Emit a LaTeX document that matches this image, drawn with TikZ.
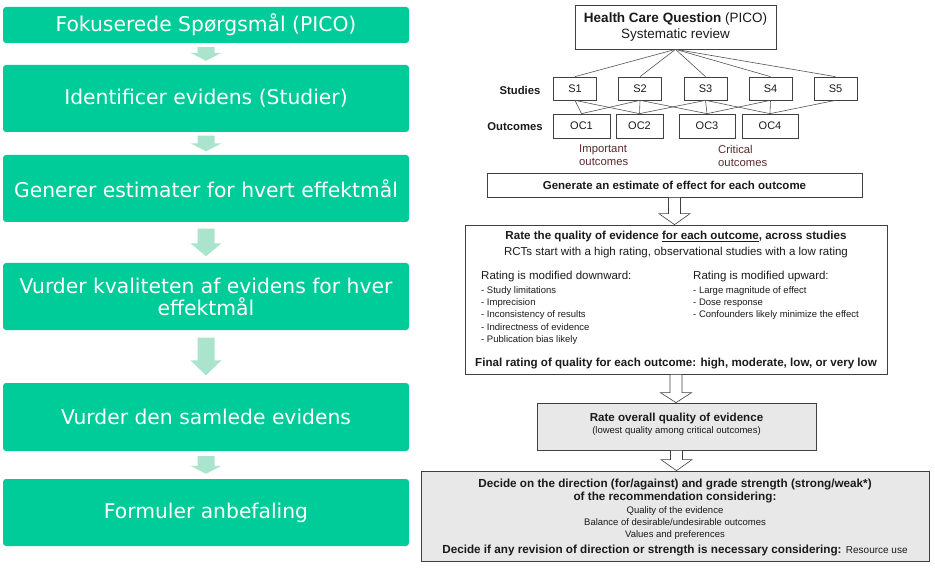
\documentclass[tikz,border=0pt]{standalone}
\usepackage{fontspec}
\setmainfont{Liberation Sans}
\newfontfamily\stepfont{DejaVu Sans}
\usetikzlibrary{calc}
\definecolor{gradegreen}{HTML}{00CC99}
\definecolor{arrowgreen}{HTML}{AAE4CD}
\definecolor{boxgray}{HTML}{404040}
\definecolor{boxfill}{HTML}{E8E8E8}
\definecolor{notered}{HTML}{5A2A2A}
\definecolor{inkgray}{HTML}{1A1A1A}

% block arrow between two stacked nodes: gap, head length
\newcommand{\blockarrow}[5][]{%
  \path[#1] let \p1=(#2.south), \p2=(#3.north) in
    (\x1-\arrowshaft,\y1-#4) -- (\x1+\arrowshaft,\y1-#4) -- (\x1+\arrowshaft,\y2+#4+#5)
    -- (\x1+\arrowhead,\y2+#4+#5) -- (\x1,\y2+#4) -- (\x1-\arrowhead,\y2+#4+#5)
    -- (\x1-\arrowshaft,\y2+#4+#5) -- cycle;}

\tikzset{
  arrowshaft/.store in=\arrowshaft, arrowhead/.store in=\arrowhead,
  stepbox/.style={fill=gradegreen, rounded corners=3pt, minimum width=406pt, inner sep=0pt,
    text=white, align=center, font=\stepfont\fontsize{20.3}{22}\selectfont},
  greenflow/.style={fill=arrowgreen, arrowshaft=8.5pt, arrowhead=15.5pt},
  hollowflow/.style={draw=boxgray, fill=white, line width=0.6pt, arrowshaft=6pt, arrowhead=15.5pt},
  gradebox/.style={draw=boxgray, line width=0.7pt, inner sep=0pt, align=center, text=inkgray},
  link/.style={draw=boxgray!90, line width=0.6pt},
  rowlabel/.style={font=\bfseries\fontsize{11.3}{13}\selectfont, text=inkgray},
  bigtext/.style={inner sep=0pt, text=inkgray, font=\fontsize{11.5}{14}\selectfont},
  boldtext/.style={bigtext, font=\bfseries\fontsize{11.6}{14}\selectfont},
  smalltext/.style={inner sep=0pt, text=inkgray, font=\fontsize{9.5}{12}\selectfont},
  itemtext/.style={smalltext, anchor=west, text height=7pt, text depth=2pt},
  note/.style={inner sep=0pt, align=left, anchor=west, text=notered, font=\fontsize{11.3}{13}\selectfont}
}

\begin{document}
\begin{tikzpicture}[x=1pt,y=-1pt]
  \useasboundingbox (0,0) rectangle (935,572);

  % left column
  \node[stepbox, minimum height=36pt] (fokus) at (206,25) {Fokuserede Spørgsmål (PICO)};
  \node[stepbox, minimum height=67pt] (identificer) at (206,98.5) {Identificer evidens (Studier)};
  \node[stepbox, minimum height=67pt] (generer) at (206,188.5) {Generer estimater for hvert effektmål};
  \node[stepbox, minimum height=67pt] (vurder) at (206,296.5) {Vurder kvaliteten af evidens for hver\\effektmål};
  \node[stepbox, minimum height=68pt] (samlet) at (206,417) {Vurder den samlede evidens};
  \node[stepbox, minimum height=67pt] (formuler) at (206,512.5) {Formuler anbefaling};

  \blockarrow[greenflow]{fokus}{identificer}{4pt}{8pt}
  \blockarrow[greenflow]{identificer}{generer}{3.5pt}{8pt}
  \blockarrow[greenflow]{generer}{vurder}{6.5pt}{13pt}
  \blockarrow[greenflow]{vurder}{samlet}{7.5pt}{15pt}
  \blockarrow[greenflow]{samlet}{formuler}{5pt}{8pt}

  % right column: question, studies, outcomes
  \node[gradebox, minimum width=201pt, minimum height=44pt, font=\fontsize{13.5}{16.5}\selectfont]
    (question) at (675.5,27) {\textbf{Health Care Question} (PICO)\\Systematic review};
  \node[rowlabel] (studieslabel) at (520,90) {Studies};
  \node[rowlabel] (outcomeslabel) at (515,127) {Outcomes};
  \foreach \i/\x in {1/575,2/640,3/705.5,4/770.5,5/835.5}
    \node[gradebox, minimum width=43pt, minimum height=23pt, font=\fontsize{11}{13}\selectfont]
      (s\i) at (\x,88.5) {S\i};
  \foreach \i/\x/\w in {1/581.5/57,2/639.5/47,3/707/56,4/770/56}
    \node[gradebox, minimum width=\w pt, minimum height=24pt, font=\fontsize{11}{13}\selectfont]
      (oc\i) at (\x,126) {OC\i};
  \foreach \i in {1,...,5}
    \draw[link] (question.south) -- (s\i.north);
  \foreach \a/\b in {1/1,1/2,2/1,2/2,2/3,3/2,3/3,3/4,4/3,4/4,5/4}
    \draw[link] (s\a.south) -- (oc\b.north);
  \node[note] (important) at (579,155.5) {Important\\outcomes};
  \node[note] (critical) at (718,155.5) {Critical\\outcomes};

  % estimate and rating
  \node[gradebox, minimum width=375pt, minimum height=24pt, font=\bfseries\fontsize{11.5}{14}\selectfont]
    (estimate) at (674.5,185) {Generate an estimate of effect for each outcome};
  \node[gradebox, minimum width=422pt, minimum height=149pt] (rating) at (676,299.5) {};
  \node[boldtext] (ratetitle) at (676,237) {Rate the quality of evidence \underline{for each outcome}, across studies};
  \node[bigtext] (ratestart) at (676,253) {RCTs start with a high rating, observational studies with a low rating};
  \node[bigtext, anchor=west] (downhead) at (481,277) {Rating is modified downward:};
  \node[bigtext, anchor=west] (uphead) at (693,277) {Rating is modified upward:};
  \foreach \t [count=\k] in {- Study limitations, - Imprecision, - Inconsistency of results,
      - Indirectness of evidence, - Publication bias likely}
    \node[itemtext] (down\k) at (481,278.75+12.25*\k) {\t};
  \foreach \t [count=\k] in {- Large magnitude of effect, - Dose response,
      - Confounders likely minimize the effect}
    \node[itemtext] (up\k) at (693,278.75+12.25*\k) {\t};
  \node[boldtext] (ratefinal) at (676,364) {Final rating of quality for each outcome: high, moderate, low, or very low};

  % overall quality and decision
  \node[gradebox, fill=boxfill, minimum width=279pt, minimum height=47pt] (overall) at (676.5,426.5) {};
  \node[boldtext] (overalltitle) at (676.5,418) {Rate overall quality of evidence};
  \node[smalltext] (overallnote) at (676.5,431) {(lowest quality among critical outcomes)};
  \node[gradebox, fill=boxfill, minimum width=508pt, minimum height=90pt] (decide) at (675,516) {};
  \node[boldtext, align=center, font=\bfseries\fontsize{11.7}{13}\selectfont] (decidetitle) at (675,490.5)
    {Decide on the direction (for/against) and grade strength (strong/weak*)\\of the recommendation considering:};
  \node[smalltext, align=center, font=\fontsize{9.5}{12}\selectfont] (decidelist) at (675,523)
    {Quality of the evidence\\Balance of desirable/undesirable outcomes\\Values and preferences};
  \node[boldtext, font=\bfseries\fontsize{11.7}{13}\selectfont] (decidelast) at (675,550)
    {Decide if any revision of direction or strength is necessary considering: \mdseries\fontsize{10}{12}\selectfont Resource use};

  \blockarrow[hollowflow]{estimate}{rating}{0pt}{11pt}
  \blockarrow[hollowflow]{rating}{overall}{0pt}{10pt}
  \blockarrow[hollowflow]{overall}{decide}{0pt}{11pt}
\end{tikzpicture}
\end{document}
